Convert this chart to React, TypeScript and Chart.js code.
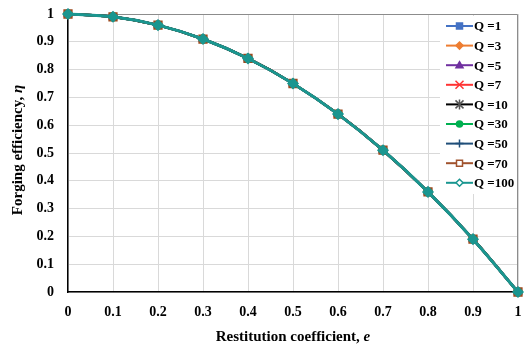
import React, { useEffect, useRef } from "react";
import { Chart, registerables } from "chart.js";

Chart.register(...registerables);

const xValues = [0, 0.1, 0.2, 0.3, 0.4, 0.5, 0.6, 0.7, 0.8, 0.9, 1];
const etaQ1 = [1, 0.99, 0.96, 0.91, 0.84, 0.75, 0.64, 0.51, 0.36, 0.19, 0];
const etaQ3 = [1, 0.99, 0.96, 0.91, 0.84, 0.75, 0.64, 0.51, 0.36, 0.19, 0];
const etaQ5 = [1, 0.99, 0.96, 0.91, 0.84, 0.75, 0.64, 0.51, 0.36, 0.19, 0];
const etaQ7 = [1, 0.99, 0.96, 0.91, 0.84, 0.75, 0.64, 0.51, 0.36, 0.19, 0];
const etaQ10 = [1, 0.99, 0.96, 0.91, 0.84, 0.75, 0.64, 0.51, 0.36, 0.19, 0];
const etaQ30 = [1, 0.99, 0.96, 0.91, 0.84, 0.75, 0.64, 0.51, 0.36, 0.19, 0];
const etaQ50 = [1, 0.99, 0.96, 0.91, 0.84, 0.75, 0.64, 0.51, 0.36, 0.19, 0];
const etaQ70 = [1, 0.99, 0.96, 0.91, 0.84, 0.75, 0.64, 0.51, 0.36, 0.19, 0];
const etaQ100 = [1, 0.99, 0.96, 0.91, 0.84, 0.75, 0.64, 0.51, 0.36, 0.19, 0];

const seriesLabels = ["Q =1", "Q =3", "Q =5", "Q =7", "Q =10", "Q =30", "Q =50", "Q =70", "Q =100"];
const seriesValues = [etaQ1, etaQ3, etaQ5, etaQ7, etaQ10, etaQ30, etaQ50, etaQ70, etaQ100];
const seriesColors = ["#4472C4", "#ED7D31", "#7030A0", "#FF3333", "#000000", "#00B050", "#1F4E79", "#A0522D", "#1A9690"];
const seriesStyles = ["rect", "rectRot", "triangle", "crossRot", "star", "circle", "cross", "rect", "rectRot"];
const seriesFills = ["#4472C4", "#ED7D31", "#7030A0", "#FF3333", "#000000", "#00B050", "#1F4E79", "#B8602A", "#1A9690"];
const legendFills = ["#4472C4", "#ED7D31", "#7030A0", "#FF3333", "#000000", "#00B050", "#1F4E79", "#FFFFFF", "#FFFFFF"];

const FONT = "'Liberation Serif', 'Times New Roman', serif";

function drawPointHelper(ctx: any, style: string, r: number, x: number, y: number, color: string, fill: string) {
  ctx.save();
  ctx.strokeStyle = color;
  ctx.fillStyle = fill;
  ctx.lineWidth = 1.5;
  ctx.beginPath();
  if (style === "rect") {
    ctx.rect(x - r, y - r, 2 * r, 2 * r);
    ctx.fill();
    ctx.stroke();
  } else if (style === "rectRot") {
    ctx.moveTo(x, y - r - 0.5);
    ctx.lineTo(x + r + 0.5, y);
    ctx.lineTo(x, y + r + 0.5);
    ctx.lineTo(x - r - 0.5, y);
    ctx.closePath();
    ctx.fill();
    ctx.stroke();
  } else if (style === "triangle") {
    ctx.moveTo(x, y - r - 0.5);
    ctx.lineTo(x + r + 0.5, y + r - 0.5);
    ctx.lineTo(x - r - 0.5, y + r - 0.5);
    ctx.closePath();
    ctx.fill();
    ctx.stroke();
  } else if (style === "circle") {
    ctx.arc(x, y, r, 0, Math.PI * 2);
    ctx.fill();
    ctx.stroke();
  } else if (style === "crossRot") {
    ctx.moveTo(x - r, y - r);
    ctx.lineTo(x + r, y + r);
    ctx.moveTo(x + r, y - r);
    ctx.lineTo(x - r, y + r);
    ctx.stroke();
  } else if (style === "cross") {
    ctx.moveTo(x, y - r);
    ctx.lineTo(x, y + r);
    ctx.moveTo(x - r, y);
    ctx.lineTo(x + r, y);
    ctx.stroke();
  } else if (style === "star") {
    ctx.strokeStyle = "#555";
    ctx.moveTo(x - r, y - r);
    ctx.lineTo(x + r, y + r);
    ctx.moveTo(x + r, y - r);
    ctx.lineTo(x - r, y + r);
    ctx.moveTo(x, y - r - 1);
    ctx.lineTo(x, y + r + 1);
    ctx.stroke();
  }
  ctx.restore();
}

const overlayPlugin = {
  id: "overlay",
  beforeDatasetsDraw(chart: any) {
    const { ctx, chartArea } = chart;
    ctx.save();
    ctx.strokeStyle = "#8c8c8c";
    ctx.lineWidth = 1;
    ctx.beginPath();
    ctx.moveTo(chartArea.left, chartArea.top + 0.5);
    ctx.lineTo(chartArea.right - 0.5, chartArea.top + 0.5);
    ctx.lineTo(chartArea.right - 0.5, chartArea.bottom);
    ctx.stroke();
    ctx.restore();
  },
  afterDraw(chart: any) {
    const { ctx, chartArea } = chart;
    ctx.save();
    // Legend
    const boxLeft = 440;
    const boxTop = chartArea.top + 2;
    const boxBottom = 194;
    ctx.fillStyle = "#ffffff";
    ctx.fillRect(boxLeft, boxTop, chartArea.right - 1 - boxLeft, boxBottom - boxTop);
    const rowH = 19.6;
    const y0 = 26;
    for (let i = 0; i < seriesLabels.length; i++) {
      const y = y0 + i * rowH;
      const color = seriesColors[i];
      ctx.strokeStyle = color;
      ctx.lineWidth = 2;
      ctx.beginPath();
      ctx.moveTo(446, y);
      ctx.lineTo(473, y);
      ctx.stroke();
      const style = seriesStyles[i];
      const r = style === "crossRot" || style === "star" || style === "cross" ? 4 : 3;
      drawPointHelper(ctx, style, r, 459.5, y, color, legendFills[i]);
      ctx.fillStyle = "#000";
      ctx.font = `bold 13px ${FONT}`;
      ctx.textAlign = "left";
      ctx.textBaseline = "middle";
      ctx.fillText(seriesLabels[i], 474, y + 1);
    }
    // X title
    ctx.textBaseline = "middle";
    const xt1 = "Restitution coefficient, ";
    const xt2 = "e";
    ctx.font = `bold 15px ${FONT}`;
    const w1 = ctx.measureText(xt1).width;
    ctx.font = `italic bold 15px ${FONT}`;
    const w2 = ctx.measureText(xt2).width;
    const cx = (chartArea.left + chartArea.right) / 2;
    const sx = cx - (w1 + w2) / 2;
    ctx.textAlign = "left";
    ctx.fillStyle = "#000";
    ctx.font = `bold 15px ${FONT}`;
    ctx.fillText(xt1, sx, 337);
    ctx.font = `italic bold 15px ${FONT}`;
    ctx.fillText(xt2, sx + w1, 337);
    // Y title
    const yt1 = "Forging efficiency, ";
    const yt2 = "\u03B7";
    ctx.font = `bold 15px ${FONT}`;
    const v1 = ctx.measureText(yt1).width;
    ctx.font = `italic bold 15px ${FONT}`;
    const v2 = ctx.measureText(yt2).width;
    ctx.translate(18, 150);
    ctx.rotate(-Math.PI / 2);
    const s = -(v1 + v2) / 2;
    ctx.font = `bold 15px ${FONT}`;
    ctx.fillText(yt1, s, 0);
    ctx.font = `italic bold 15px ${FONT}`;
    ctx.fillText(yt2, s + v1, 0);
    ctx.restore();
  },
};

export default function App() {
  const ref = useRef<HTMLCanvasElement | null>(null);
  useEffect(() => {
    if (!ref.current) return;
    const n = seriesLabels.length;
    const datasets = seriesLabels.map((label, i) => ({
      label,
      order: n - 1 - i,
      data: xValues.map((x, j) => ({ x, y: seriesValues[i][j] })),
      borderColor: seriesColors[i],
      backgroundColor: seriesFills[i],
      pointBackgroundColor: seriesFills[i],
      pointBorderColor: i === 7 ? "#9C4A1E" : seriesColors[i],
      pointStyle: seriesStyles[i] as any,
      pointRadius: i === 7 ? 5.5 : i === 8 ? 5 : 4,
      pointBorderWidth: 1.5,
      borderWidth: i === 8 ? 3 : 2.5,
      cubicInterpolationMode: "monotone" as const,
      clip: 8,
    }));
    const chart = new Chart(ref.current, {
      type: "line",
      data: { datasets },
      options: {
        animation: false,
        responsive: false,
        devicePixelRatio: 1,
        layout: { padding: { left: 0, top: 14, right: 5, bottom: 0 } },
        plugins: { legend: { display: false }, tooltip: { enabled: false } },
        scales: {
          x: {
            type: "linear",
            min: 0,
            max: 1,
            ticks: {
              stepSize: 0.1,
              color: "#000",
              font: { family: FONT, size: 14, weight: "bold" },
              padding: 12,
              callback: (v: any) => String(Math.round(Number(v) * 10) / 10),
            },
            grid: { color: "#d9d9d9", drawTicks: false, lineWidth: 1 },
            border: { color: "#000", width: 1.5 },
            afterFit: (s: any) => {
              s.height = 57;
              s.paddingLeft = 0;
              s.paddingRight = 0;
            },
          },
          y: {
            min: 0,
            max: 1,
            ticks: {
              stepSize: 0.1,
              color: "#000",
              font: { family: FONT, size: 14, weight: "bold" },
              padding: 14,
              callback: (v: any) => String(Math.round(Number(v) * 10) / 10),
            },
            grid: { color: "#d9d9d9", drawTicks: false, lineWidth: 1 },
            border: { color: "#000", width: 1.5 },
            afterFit: (s: any) => {
              s.width = 68;
              s.paddingTop = 0;
              s.paddingBottom = 0;
            },
          },
        },
      },
      plugins: [overlayPlugin],
    });
    return () => chart.destroy();
  }, []);
  return (
    <div style={{ position: "fixed", left: 0, top: 0, width: 525, height: 349, background: "#fff" }}>
      <canvas ref={ref} width={525} height={349} style={{ width: 525, height: 349 }} />
    </div>
  );
}
